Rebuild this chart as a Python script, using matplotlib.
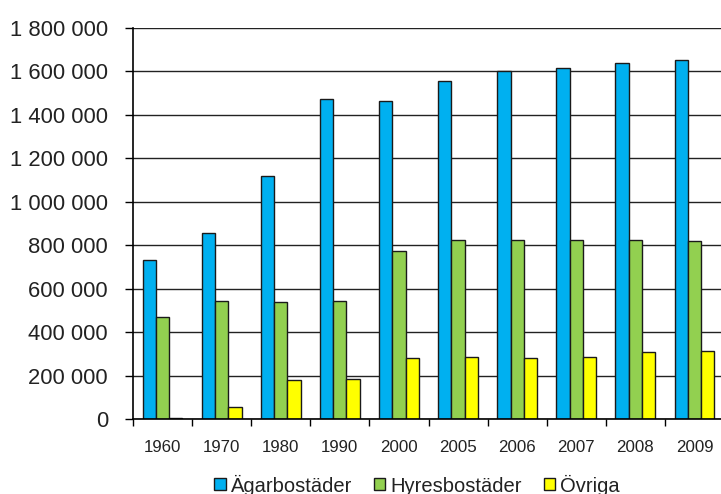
import numpy as np
import matplotlib.pyplot as plt
from matplotlib.ticker import FuncFormatter, FixedLocator

plt.rcParams['font.family'] = ['Liberation Sans', 'DejaVu Sans']

# Data
years = ['1960', '1970', '1980', '1990', '2000', '2005', '2006', '2007', '2008', '2009']
agar = [730000, 855000, 1120000, 1473000, 1462000, 1556000, 1600000, 1615000, 1638000, 1651000]
hyres = [471000, 545000, 537000, 545000, 775000, 825000, 825000, 825000, 825000, 820000]
ovriga = [5000, 55000, 181000, 185000, 280000, 285000, 280000, 285000, 310000, 315000]

labels = ['Ägarbostäder', 'Hyresbostäder', 'Övriga']
colors = ['#00B0F0', '#92D050', '#FFFF00']

fig = plt.figure(figsize=(7.21, 4.94), dpi=100)
ax = fig.add_axes([133 / 721, 75 / 494, 591 / 721, 391 / 494])

x = np.arange(len(years))
w = 0.225
for i, (vals, lab, col) in enumerate(zip([agar, hyres, ovriga], labels, colors)):
    ax.bar(x + (i - 1) * w, vals, width=w, color=col, edgecolor='#1a1a1a',
           linewidth=1.0, label=lab, zorder=3)

ax.set_xlim(-0.5, len(years) - 0.5)
ax.set_ylim(0, 1800000)
ax.set_yticks(np.arange(0, 1800001, 200000))
ax.yaxis.set_major_formatter(FuncFormatter(lambda v, p: f'{int(v):,}'.replace(',', ' ')))
ax.grid(axis='y', color='#222222', linewidth=1.0, zorder=0)

ax.set_xticks(x)
ax.set_xticklabels(years, fontsize=12.2, color='#222222')
ax.xaxis.set_minor_locator(FixedLocator(np.arange(-0.5, len(years), 1.0)))
ax.tick_params(axis='x', which='major', length=0, pad=15)
ax.tick_params(axis='x', which='minor', length=5, width=1, color='black', direction='out')
ax.tick_params(axis='y', length=6, width=1, color='black', labelsize=15.8,
               labelcolor='#222222', pad=12)

for s in ['top', 'right']:
    ax.spines[s].set_visible(False)
for s in ['left', 'bottom']:
    ax.spines[s].set_color('black')
    ax.spines[s].set_linewidth(1.2)
    ax.spines[s].set_zorder(4)

fig.legend(loc='center', bbox_to_anchor=(417 / 721, 9 / 494), ncol=3, frameon=False,
           fontsize=14.5, handlelength=0.55, handleheight=0.55, handletextpad=0.25,
           columnspacing=1.1, borderaxespad=0, labelcolor='#222222')

fig.savefig('out.png', dpi=100)
